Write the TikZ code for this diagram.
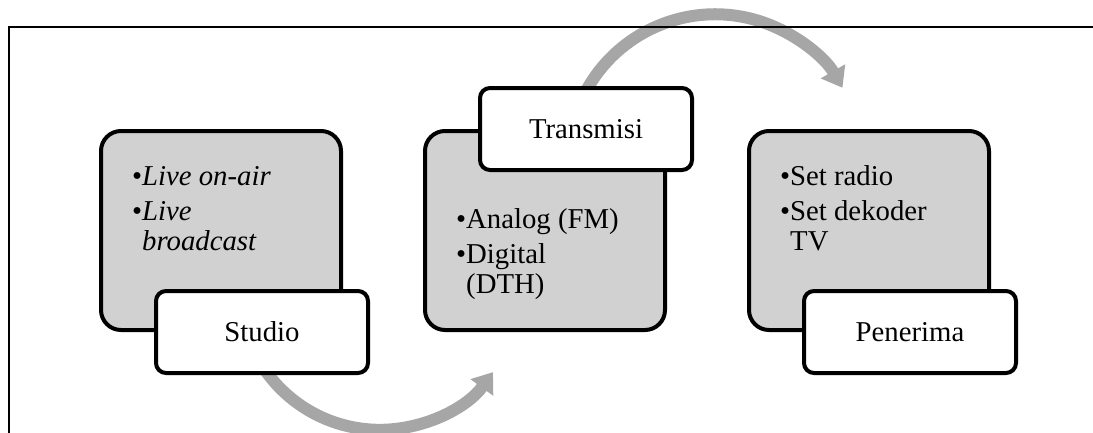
\documentclass[tikz,border=0pt]{standalone}
\usepackage{fontspec}
\setmainfont{Liberation Serif}
\usetikzlibrary{arrows.meta,backgrounds}
\definecolor{panelgray}{RGB}{209,209,209}
\definecolor{arrowgray}{RGB}{166,166,166}
\newcommand{\itm}{\makebox[10pt][l]{\textbullet}}

\begin{document}
\begin{tikzpicture}[x=1pt,y=-1pt,
  panel/.style={draw=black,line width=4pt,fill=panelgray,rounded corners=20pt,minimum width=240pt,minimum height=199pt},
  tag/.style={draw=black,line width=4pt,fill=white,rounded corners=10pt,minimum width=212pt,minimum height=82pt,font=\fontsize{28.75}{30}\selectfont},
  items/.style={inner sep=0pt,anchor=base west,font=\fontsize{28.75}{30}\selectfont},
  flow/.style={line width=12pt,draw=arrowgray,-{Triangle[width=27pt,length=19pt]}},
  frameline/.style={line width=1.5pt,draw=black}]
\useasboundingbox (0,0) rectangle (1093,432);
\foreach \n/\x in {studiobg/221,transbg/545,penbg/869}
\node[panel] (\n) at (\x,230.5) {};
\node[tag,xshift=41pt] (studio) at (studiobg.south) {Studio};
\node[tag,xshift=41pt] (transmisi) at (transbg.north) {Transmisi};
\node[tag,xshift=41pt] (penerima) at (penbg.south) {Penerima};
\node[items] (studiotxt) at ([xshift=33pt,yshift=-56pt]studiobg.north west) {\begin{tabular}[t]{@{}l@{}l@{}}\itm&\textit{Live on-air}\\[5pt] \itm&\textit{Live}\\ &\textit{broadcast}\end{tabular}};
\node[items] (transtxt) at ([xshift=33pt,yshift=-99pt]transbg.north west) {\begin{tabular}[t]{@{}l@{}l@{}}\itm&Analog (FM)\\[5pt] \itm&Digital\\ &(DTH)\end{tabular}};
\node[items] (pentxt) at ([xshift=33pt,yshift=-56pt]penbg.north west) {\begin{tabular}[t]{@{}l@{}l@{}}\itm&Set radio\\[5pt] \itm&Set dekoder\\ &TV\end{tabular}};
\begin{scope}[on background layer]
\draw[flow] (studio.center) ++(-1,32) arc[start angle=148,end angle=36,radius=140];
\draw[flow] (transmisi.center) ++(-9,-18) arc[start angle=200,end angle=330,radius=147];
\draw[frameline] (9,440) -- (9,27) -- (1100,27);
\end{scope}
\end{tikzpicture}
\end{document}
